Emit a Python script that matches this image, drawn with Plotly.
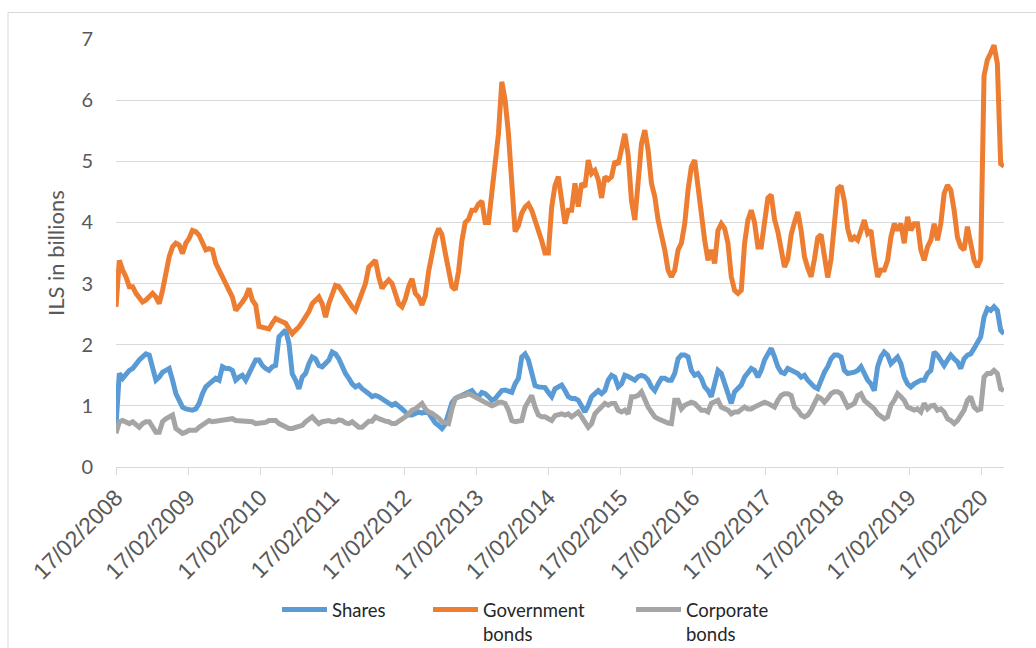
import pandas as pd
import plotly.graph_objects as go

START = "2008-02-17"
END = "2020-06-11"

# Weekly outstanding amounts, ILS billions (first value is the opening observation)
shares = [
    0.68,
    1.53, 1.45, 1.53, 1.58, 1.61, 1.69, 1.75, 1.80, 1.85, 1.83, 1.64, 1.42, 1.47, 1.55, 1.58, 1.61, 1.42, 1.20, 1.09, 0.98,
    0.95, 0.93, 0.93, 0.95, 1.04, 1.20, 1.31, 1.36, 1.42, 1.45, 1.42, 1.64, 1.61, 1.61, 1.58, 1.42, 1.47, 1.50, 1.42, 1.53, 1.66,
    1.75, 1.75, 1.66, 1.61, 1.58, 1.64, 1.66, 2.13, 2.18, 2.24, 2.02, 1.52, 1.42, 1.28, 1.47, 1.53, 1.69, 1.80, 1.77, 1.66,
    1.64, 1.69, 1.75, 1.88, 1.85, 1.77, 1.64, 1.53, 1.45, 1.36, 1.31, 1.34, 1.28, 1.25, 1.20, 1.15, 1.17, 1.15, 1.12, 1.09,
    1.04, 1.01, 1.04, 0.98, 0.95,
    0.90, 0.85, 0.85, 0.88, 0.90, 0.88, 0.90, 0.88, 0.80, 0.72, 0.68, 0.63, 0.70, 0.85, 1.05, 1.12, 1.15, 1.18, 1.20, 1.22,
    1.25, 1.18, 1.15, 1.22, 1.20, 1.15, 1.09, 1.12, 1.18, 1.25, 1.26, 1.25, 1.22, 1.36, 1.45, 1.80, 1.85, 1.75, 1.50, 1.33,
    1.31, 1.31, 1.30, 1.22, 1.15,
    1.28, 1.31, 1.34, 1.25, 1.15, 1.12, 1.12, 1.09, 0.98, 0.90, 1.01, 1.15, 1.20, 1.25, 1.20, 1.25, 1.42, 1.50, 1.47, 1.31,
    1.36, 1.50, 1.48, 1.45, 1.42, 1.48, 1.50, 1.48, 1.42, 1.31, 1.25, 1.36, 1.45, 1.45, 1.42, 1.42, 1.53, 1.77, 1.83, 1.83,
    1.80, 1.58, 1.50, 1.53, 1.45,
    1.31, 1.25, 1.15, 1.36, 1.58, 1.53, 1.36, 1.15, 1.04, 1.23, 1.28, 1.34, 1.47, 1.55, 1.61, 1.58, 1.47, 1.58, 1.75, 1.85,
    1.94, 1.80, 1.64, 1.55, 1.53, 1.61, 1.58, 1.55, 1.53, 1.47, 1.50, 1.42, 1.36, 1.31, 1.28, 1.42, 1.55, 1.64, 1.77, 1.83,
    1.83, 1.80, 1.58, 1.53, 1.53,
    1.55, 1.58, 1.64, 1.53, 1.42, 1.36, 1.25, 1.64, 1.80, 1.88, 1.83, 1.69, 1.75, 1.80, 1.69, 1.47, 1.36, 1.31, 1.36, 1.39,
    1.42, 1.42, 1.53, 1.58, 1.88, 1.83, 1.75, 1.66, 1.75, 1.83, 1.77, 1.72, 1.61, 1.77, 1.83, 1.85, 1.94, 2.02, 2.13, 2.45,
    2.59, 2.56, 2.62, 2.56, 2.24,
    2.18,
]

government_bonds = [
    2.62,
    3.38, 3.22, 3.11, 2.95, 2.95, 2.84, 2.78, 2.70, 2.73, 2.78, 2.84, 2.78, 2.67, 2.89, 3.22, 3.44, 3.60, 3.66, 3.63, 3.49,
    3.66, 3.74, 3.87, 3.85, 3.79, 3.66, 3.55, 3.57, 3.55, 3.33, 3.22, 3.08, 2.97, 2.89, 2.78, 2.56, 2.62, 2.70, 2.78, 2.92, 2.73,
    2.65, 2.30, 2.29, 2.29, 2.26, 2.35, 2.43, 2.40, 2.37, 2.35, 2.26, 2.18, 2.24, 2.29, 2.37, 2.45, 2.54, 2.67, 2.73, 2.78,
    2.67, 2.45, 2.67, 2.84, 2.97, 2.95, 2.86, 2.78, 2.70, 2.62, 2.56, 2.70, 2.84, 3.00, 3.27, 3.33, 3.38, 3.11, 2.92, 3.00,
    3.06, 3.00, 2.84, 2.67, 2.62,
    2.75, 2.95, 3.08, 2.84, 2.78, 2.65, 2.80, 3.20, 3.45, 3.75, 3.90, 3.80, 3.50, 3.20, 2.95, 2.90, 3.20, 3.70, 4.00, 4.05,
    4.20, 4.20, 4.30, 4.35, 4.00, 4.00, 4.45, 4.85, 5.45, 6.30, 6.00, 5.45, 4.75, 3.85, 3.95, 4.15, 4.25, 4.30, 4.20, 4.05,
    3.85, 3.70, 3.50, 3.50, 4.25,
    4.60, 4.75, 4.42, 3.98, 4.20, 4.20, 4.64, 4.26, 4.64, 4.58, 5.02, 4.80, 4.85, 4.70, 4.40, 4.75, 4.70, 4.75, 5.00, 4.95,
    5.20, 5.45, 5.10, 4.35, 4.04, 4.58, 5.29, 5.51, 5.18, 4.64, 4.42, 4.04, 3.82, 3.55, 3.22, 3.11, 3.22, 3.55, 3.66, 3.98,
    4.53, 4.91, 5.02, 4.58, 4.09,
    3.71, 3.38, 3.55, 3.33, 3.87, 3.98, 3.90, 3.66, 3.11, 2.89, 2.84, 2.89, 3.66, 4.04, 4.20, 4.00, 3.60, 3.60, 4.05, 4.40,
    4.45, 4.05, 3.85, 3.50, 3.27, 3.40, 3.80, 4.00, 4.17, 3.87, 3.44, 3.25, 3.11, 3.40, 3.75, 3.80, 3.50, 3.10, 3.40, 4.05,
    4.55, 4.60, 4.35, 3.90, 3.70,
    3.76, 3.71, 3.87, 4.04, 3.82, 3.87, 3.44, 3.11, 3.22, 3.22, 3.38, 3.76, 3.98, 3.87, 3.98, 3.66, 4.09, 3.87, 3.98, 3.98,
    3.55, 3.38, 3.60, 3.71, 3.98, 3.71, 3.98, 4.47, 4.61, 4.53, 4.20, 3.76, 3.60, 3.55, 3.93, 3.66, 3.38, 3.27, 3.40, 6.40,
    6.66, 6.77, 6.90, 6.60, 4.96,
    4.92,
]

corporate_bonds = [
    0.55,
    0.74, 0.76, 0.74, 0.71, 0.74, 0.68, 0.65, 0.71, 0.74, 0.74, 0.65, 0.57, 0.57, 0.74, 0.79, 0.82, 0.85, 0.63, 0.60, 0.55,
    0.57, 0.60, 0.60, 0.60, 0.65, 0.68, 0.71, 0.76, 0.74, 0.75, 0.76, 0.76, 0.76, 0.78, 0.79, 0.76, 0.76, 0.76, 0.76, 0.75, 0.74,
    0.71, 0.71, 0.71, 0.73, 0.76, 0.76, 0.76, 0.71, 0.68, 0.65, 0.63, 0.63, 0.65, 0.65, 0.68, 0.74, 0.79, 0.82, 0.76, 0.71,
    0.74, 0.75, 0.76, 0.74, 0.74, 0.77, 0.76, 0.72, 0.71, 0.74, 0.70, 0.65, 0.65, 0.71, 0.75, 0.75, 0.82, 0.79, 0.76, 0.75,
    0.74, 0.71, 0.71, 0.74, 0.79,
    0.82, 0.87, 0.93, 0.95, 1.00, 1.04, 0.95, 0.90, 0.88, 0.85, 0.80, 0.74, 0.72, 0.71, 0.95, 1.12, 1.15, 1.15, 1.17, 1.20,
    1.17, 1.15, 1.12, 1.09, 1.06, 1.04, 1.00, 1.02, 1.06, 1.06, 1.04, 0.93, 0.76, 0.74, 0.74, 0.76, 0.98, 1.09, 1.17, 0.98,
    0.85, 0.82, 0.82, 0.79, 0.76,
    0.84, 0.85, 0.87, 0.85, 0.87, 0.82, 0.87, 0.90, 0.82, 0.74, 0.65, 0.71, 0.87, 0.93, 0.98, 1.04, 1.01, 1.04, 1.04, 0.93,
    0.90, 0.93, 0.87, 1.15, 1.15, 1.17, 1.23, 1.09, 0.98, 0.90, 0.82, 0.79, 0.76, 0.74, 0.72, 0.71, 1.09, 1.09, 0.95, 1.01,
    1.04, 1.06, 1.04, 0.98, 0.93,
    0.93, 0.90, 1.04, 1.06, 1.09, 0.98, 0.95, 0.93, 0.87, 0.90, 0.90, 0.93, 0.98, 0.95, 0.95, 0.98, 1.01, 1.04, 1.06, 1.04,
    1.01, 0.98, 1.09, 1.17, 1.20, 1.20, 1.17, 0.98, 0.93, 0.85, 0.82, 0.85, 0.93, 1.06, 1.15, 1.12, 1.06, 1.12, 1.20, 1.23,
    1.23, 1.20, 1.09, 0.98, 1.01,
    1.04, 1.17, 1.20, 1.09, 1.04, 1.01, 0.95, 0.87, 0.82, 0.79, 0.82, 1.01, 1.09, 1.20, 1.15, 1.09, 0.98, 0.95, 0.93, 0.95,
    0.90, 1.04, 0.95, 1.00, 1.01, 0.93, 0.95, 0.90, 0.79, 0.76, 0.71, 0.76, 0.85, 0.93, 1.09, 1.15, 0.98, 0.93, 0.95, 1.47,
    1.53, 1.53, 1.58, 1.53, 1.28,
    1.25,
]

series_names = ["Shares", "Government<br>bonds", "Corporate<br>bonds"]
series_colors = ["#5B9BD5", "#ED7D31", "#A5A5A5"]
series_values = [shares, government_bonds, corporate_bonds]
legend_ids = ["legend", "legend2", "legend3"]
legend_left_px = [277, 428, 631]

W, H = 1036, 648
M_L, M_R, M_T, M_B = 116, 32, 39, 181
PW = W - M_L - M_R
PH = H - M_T - M_B


def px_x(p):
    return (p - M_L) / PW


def px_y(p):
    return (H - M_B - p) / PH


fig = go.Figure()
for name, color, vals, lg in zip(series_names, series_colors, series_values, legend_ids):
    dates = pd.date_range(START, END, periods=len(vals))
    fig.add_trace(go.Scatter(
        x=dates, y=vals, mode="lines", name=name, legend=lg,
        line=dict(color=color, width=5),
    ))

grey_text = "#595959"
legend_common = dict(
    orientation="h", yanchor="top", xanchor="left", y=px_y(591),
    font=dict(family="Lato", size=18.5, color="#262626"),
    bgcolor="rgba(0,0,0,0)", itemwidth=45, valign="top",
    tracegroupgap=0,
)
legends = {
    lg: dict(legend_common, x=px_x(left)) for lg, left in zip(legend_ids, legend_left_px)
}

fig.update_layout(
    width=W, height=H,
    margin=dict(l=M_L, r=M_R, t=M_T, b=M_B, autoexpand=False),
    paper_bgcolor="white", plot_bgcolor="white",
    showlegend=True,
    xaxis=dict(
        type="date", range=[START, END],
        tick0=START, dtick="M12", tickformat="%d/%m/%Y",
        tickangle=-45, showgrid=False, zeroline=False,
        showline=True, linecolor="#D9D9D9", linewidth=1,
        ticks="outside", ticklen=7, tickcolor="#D9D9D9",
        tickfont=dict(family="Liberation Sans", size=23, color=grey_text),
    ),
    yaxis=dict(
        range=[0, 7], dtick=1, tick0=0,
        showgrid=True, gridcolor="#D9D9D9", gridwidth=1.3,
        zeroline=False, showline=False,
        ticks="outside", ticklen=0, ticklabelstandoff=18,
        tickfont=dict(family="Lato", size=20, color=grey_text),
    ),
    annotations=[dict(
        text="ILS in billions", textangle=-90,
        xref="paper", yref="paper", x=px_x(55), y=px_y(253),
        xanchor="center", yanchor="middle", showarrow=False,
        font=dict(family="Lato", size=22, color=grey_text),
    )],
    shapes=[dict(
        type="rect", xref="paper", yref="paper",
        x0=px_x(8), x1=px_x(1060), y0=px_y(680), y1=px_y(12.5),
        line=dict(color="#D9D9D9", width=1), layer="below",
    )],
    **legends,
)

fig.write_html("out.html")
